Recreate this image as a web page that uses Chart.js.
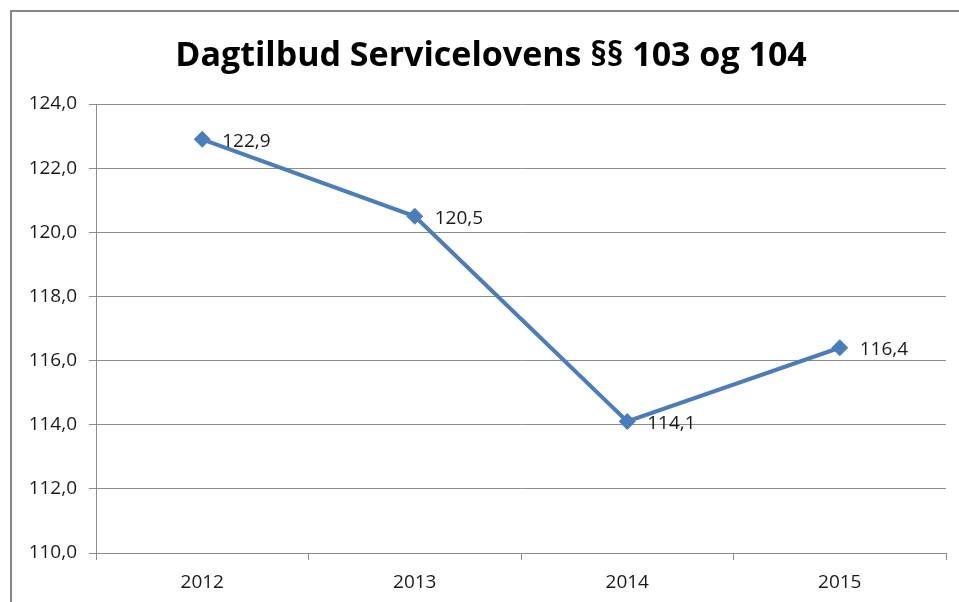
<!DOCTYPE html>
<html>
<head>
<meta charset="utf-8">
<script src="https://cdn.jsdelivr.net/npm/chart.js@4.4.1/dist/chart.umd.min.js"></script>
<style>
  html, body { margin: 0; padding: 0; background: #fff; overflow: hidden; }
  #frame { position: absolute; left: 10px; top: 10px; width: 2000px; height: 2000px;
           border-top: 2px solid #878787; border-left: 2px solid #878787; }
  #wrap { position: absolute; left: 0; top: 0; width: 959px; height: 602px; }
</style>
</head>
<body>
<div id="frame"></div>
<div id="wrap"><canvas id="chart"></canvas></div>
<script>
const TITLE = 'Dagtilbud Servicelovens §§ 103 og 104';
const YEARS = ['2012', '2013', '2014', '2015'];
const VALUES = [122.9, 120.5, 114.1, 116.4];
const Y_MIN = 110;
const Y_MAX = 124;
const Y_STEP = 2;

const BLUE = '#4a7ebb';
const GRID = '#8c8c8c';
const FONT = "'Open Sans', sans-serif";

function fmt(v) {
    return v.toFixed(1).replace('.', ',');
}

// title is centred a bit right of the canvas middle, like the original
const chartTitle = {
    id: 'chartTitle',
    afterDraw(chart) {
        const ctx = chart.ctx;
        ctx.save();
        ctx.font = 'bold 34px ' + FONT;
        ctx.fillStyle = '#000';
        ctx.textAlign = 'center';
        ctx.textBaseline = 'middle';
        ctx.fillText(TITLE, 491, 56);
        ctx.restore();
    }
};

// labels to the right of each point
const valueLabels = {
    id: 'valueLabels',
    afterDatasetsDraw(chart) {
        const ctx = chart.ctx;
        const meta = chart.getDatasetMeta(0);
        ctx.save();
        ctx.font = '19px ' + FONT;
        ctx.fillStyle = '#1a1a1a';
        ctx.textAlign = 'left';
        ctx.textBaseline = 'middle';
        meta.data.forEach((pt, i) => {
            ctx.fillText(fmt(VALUES[i]), pt.x + 20, pt.y + 2);
        });
        ctx.restore();
    }
};

new Chart(document.getElementById('chart').getContext('2d'), {
    type: 'line',
    data: {
        labels: YEARS,
        datasets: [{
            data: VALUES,
            borderColor: BLUE,
            backgroundColor: BLUE,
            borderWidth: 4,
            pointStyle: 'rectRot',
            pointRadius: 8.5,
            pointBorderWidth: 0,
            tension: 0,
            fill: false,
        }]
    },
    options: {
        responsive: true,
        maintainAspectRatio: false,
        animation: false,
        layout: { padding: { left: 0, right: 13, top: 104, bottom: 0 } },
        plugins: {
            legend: { display: false },
            tooltip: { enabled: false },
            title: { display: false },
        },
        scales: {
            x: {
                type: 'category',
                offset: true,
                grid: {
                    offset: true,
                    drawOnChartArea: false,
                    tickLength: 7,
                    color: GRID,
                },
                border: { color: GRID },
                ticks: {
                    color: '#1a1a1a',
                    padding: 11,
                    font: { family: FONT, size: 19 },
                },
                afterFit: (scale) => { scale.height = 49; },
            },
            y: {
                min: Y_MIN,
                max: Y_MAX,
                grid: { color: GRID, tickLength: 7 },
                border: { color: GRID },
                ticks: {
                    stepSize: Y_STEP,
                    color: '#1a1a1a',
                    padding: 12,
                    font: { family: FONT, size: 19 },
                    callback: (v) => fmt(v),
                },
                afterFit: (scale) => { scale.width = 96; },
            },
        },
    },
    plugins: [valueLabels, chartTitle],
});
</script>
</body>
</html>
